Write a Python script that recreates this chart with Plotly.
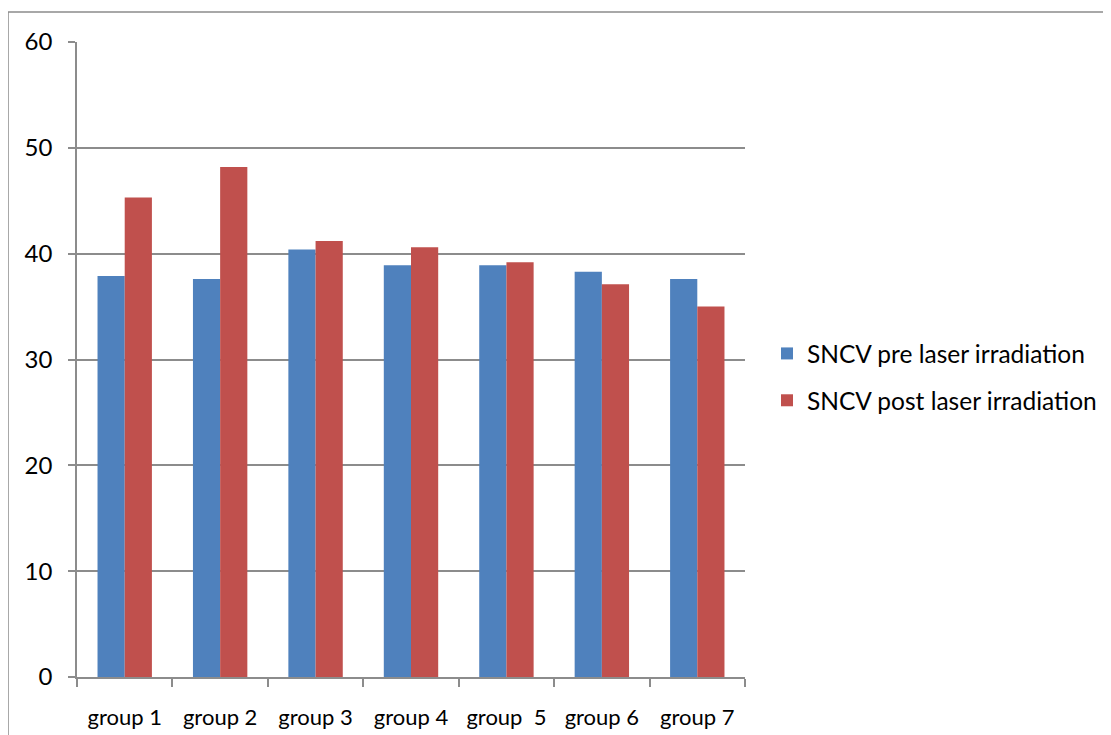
import plotly.graph_objects as go

categories = ["group 1", "group 2", "group 3", "group 4", "group \u00a05", "group 6", "group 7"]
pre_values = [37.9, 37.6, 40.4, 38.9, 38.9, 38.3, 37.6]
post_values = [45.3, 48.2, 41.2, 40.6, 39.2, 37.1, 35.0]
series_names = ["SNCV pre laser irradiation", "SNCV post laser irradiation"]
y_ticks = [0, 10, 20, 30, 40, 50, 60]

W, H = 1111, 735
OX, OY = 8, 8  # page body margin
L, R, T, B = 77 - OX, 745 - OX, 42 - OY, 677 - OY

FONT = "Lato"
GRID = "#8c8c8c"

fig = go.Figure()
fig.add_trace(go.Bar(x=categories, y=pre_values, name=series_names[0],
                     marker=dict(color="#4F81BD", line=dict(width=0)),
                     legendgroup="a"))
fig.add_trace(go.Bar(x=categories, y=post_values, name=series_names[1],
                     marker=dict(color="#C0504D", line=dict(width=0)),
                     legendgroup="b"))

pw = R - L
ph = B - T
def px(x):
    return (x - OX - L) / pw
def py(y):
    return (B - (y - OY)) / ph

fig.update_layout(
    width=W, height=H,
    margin=dict(l=L, r=W - R, t=T, b=H - B, pad=0),
    paper_bgcolor="white", plot_bgcolor="white",
    font=dict(family=FONT, size=21, color="black"),
    barmode="group", bargap=0.43, bargroupgap=0,
    showlegend=True,
    legend=dict(x=px(767), y=py(331), xanchor="left", yanchor="top",
                font=dict(family=FONT, size=24.5), tracegroupgap=12,
                itemwidth=30, bgcolor="rgba(0,0,0,0)"),
    xaxis=dict(showgrid=False, showline=True, linecolor=GRID, linewidth=1.5,
               ticks="outside", tickson="boundaries", ticklen=8, tickcolor=GRID,
               tickwidth=1.5, ticklabelstandoff=20,
               tickfont=dict(family=FONT, size=22)),
    yaxis=dict(range=[0, 60], tickvals=y_ticks, showgrid=True, gridcolor=GRID,
               gridwidth=1.5, showline=True, linecolor=GRID, linewidth=1.5,
               ticks="outside", ticklen=7, tickcolor=GRID, tickwidth=1.5,
               ticklabelstandoff=11, zeroline=False,
               tickfont=dict(family=FONT, size=24)),
    shapes=[dict(type="rect", xref="paper", yref="paper",
                 x0=px(8), x1=px(1125), y0=py(750), y1=py(12),
                 line=dict(color=GRID, width=1.5), layer="below")],
)

fig.write_html("out.html")
